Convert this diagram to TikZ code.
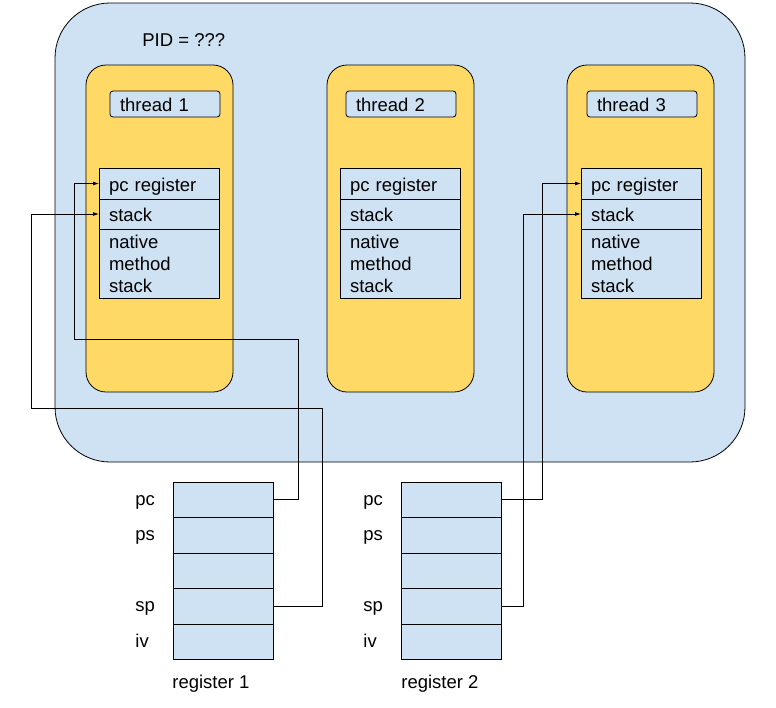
\documentclass[tikz,border=0pt]{standalone}
\usepackage{fontspec}
\setmainfont{Liberation Sans}
\usepackage{tikz}
\usetikzlibrary{positioning}
\usetikzlibrary{arrows.meta}

\definecolor{procblue}{HTML}{CFE2F3}
\definecolor{threadyellow}{HTML}{FFD966}

\begin{document}
\begin{tikzpicture}[
            x = 1pt, y = -1pt,
            > = {Latex[length=6pt,width=4pt]}, % arrow head style
            font = \fontsize{18.5}{22}\selectfont,
            line width = 0.8pt % line style
        ]

        \tikzstyle{process}=[
            draw, fill = procblue,
            rounded corners = 55pt,
            anchor = north west,
            inner sep = 0pt, outer sep = 0pt
        ]
        \tikzstyle{thread}=[
            draw, fill = threadyellow,
            rounded corners = 20pt,
            minimum width = 147, minimum height = 327,
            anchor = north west,
            inner sep = 0pt, outer sep = 0pt
        ]
        \tikzstyle{cell}=[
            draw, fill = procblue,
            text width = 100, align = left,
            inner xsep = 10pt, inner ysep = 0pt, outer sep = 0pt,
            anchor = north west
        ]
        \tikzstyle{oneline}=[
            text height = 16pt, text depth = 1pt
        ]
        \tikzstyle{regcell}=[
            draw, fill = procblue,
            minimum width = 100, minimum height = 35.5,
            inner sep = 0pt, outer sep = 0pt,
            anchor = north west
        ]
        \tikzstyle{regname}=[
            anchor = base west,
            inner sep = 0pt
        ]

        \useasboundingbox (0,0) rectangle (776,707);

% process
        \node[process, minimum width = 690, minimum height = 459] (PROC) at (55,3) {};
        \node[regname] (PIDLABEL) at (142,46.5) {PID = ???};

% threads
        \node[thread] (T1) at (86,65) {};
        \node[thread] (T2) at (327,65) {};
        \node[thread] (T3) at (567,65) {};

        \node[cell, oneline, rounded corners = 3pt, text width = 90, minimum height = 26] (T1L) at (110,91) {thread 1};
        \node[cell, oneline, rounded corners = 3pt, text width = 90, minimum height = 26] (T2L) at (346,91) {thread 2};
        \node[cell, oneline, rounded corners = 3pt, text width = 90, minimum height = 26] (T3L) at (587,91) {thread 3};

        \node[cell, oneline, minimum height = 31] (PC1) at (99,168) {pc register};
           \node[cell, oneline, minimum height = 30, below = 0pt of PC1] (ST1) {stack};
            \node[cell, minimum height = 69, below = 0pt of ST1] (NM1) {native\\method\\stack};

        \node[cell, oneline, minimum height = 31] (PC2) at (340,168) {pc register};
           \node[cell, oneline, minimum height = 30, below = 0pt of PC2] (ST2) {stack};
            \node[cell, minimum height = 69, below = 0pt of ST2] (NM2) {native\\method\\stack};

        \node[cell, oneline, minimum height = 31] (PC3) at (581,168) {pc register};
           \node[cell, oneline, minimum height = 30, below = 0pt of PC3] (ST3) {stack};
            \node[cell, minimum height = 69, below = 0pt of ST3] (NM3) {native\\method\\stack};

% registers
        \node[regcell] (R1PC) at (173,482) {};
           \node[regcell, below = 0pt of R1PC] (R1PS) {};
           \node[regcell, below = 0pt of R1PS] (R1X) {};
           \node[regcell, below = 0pt of R1X] (R1SP) {};
           \node[regcell, below = 0pt of R1SP] (R1IV) {};

        \node[regcell] (R2PC) at (401,482) {};
           \node[regcell, below = 0pt of R2PC] (R2PS) {};
           \node[regcell, below = 0pt of R2PS] (R2X) {};
           \node[regcell, below = 0pt of R2X] (R2SP) {};
           \node[regcell, below = 0pt of R2SP] (R2IV) {};

        \node[left = 38pt of R1PC.west, regname, yshift = -5.5pt] (R1PCL) {pc};
        \node[left = 38pt of R1PS.west, regname, yshift = -5.5pt] (R1PSL) {ps};
        \node[left = 38pt of R1SP.west, regname, yshift = -5.5pt] (R1SPL) {sp};
        \node[left = 38pt of R1IV.west, regname, yshift = -5.5pt] (R1IVL) {iv};

        \node[left = 38pt of R2PC.west, regname, yshift = -5.5pt] (R2PCL) {pc};
        \node[left = 38pt of R2PS.west, regname, yshift = -5.5pt] (R2PSL) {ps};
        \node[left = 38pt of R2SP.west, regname, yshift = -5.5pt] (R2SPL) {sp};
        \node[left = 38pt of R2IV.west, regname, yshift = -5.5pt] (R2IVL) {iv};

        \node[regname] (R1NAME) at (172,688) {register 1};
        \node[regname] (R2NAME) at (401,688) {register 2};

% links
        \draw[->] (R1PC.east) -- ++(25,0) |- (74,339) |- (PC1.west);
        \draw[->] (R1SP.east) -- ++(49,0) |- (31,408) |- (ST1.west);
        \draw[->] (R2PC.east) -- ++(41,0) |- (PC3.west);
        \draw[->] (R2SP.east) -- ++(22,0) |- (ST3.west);

  \end{tikzpicture}
\end{document}
